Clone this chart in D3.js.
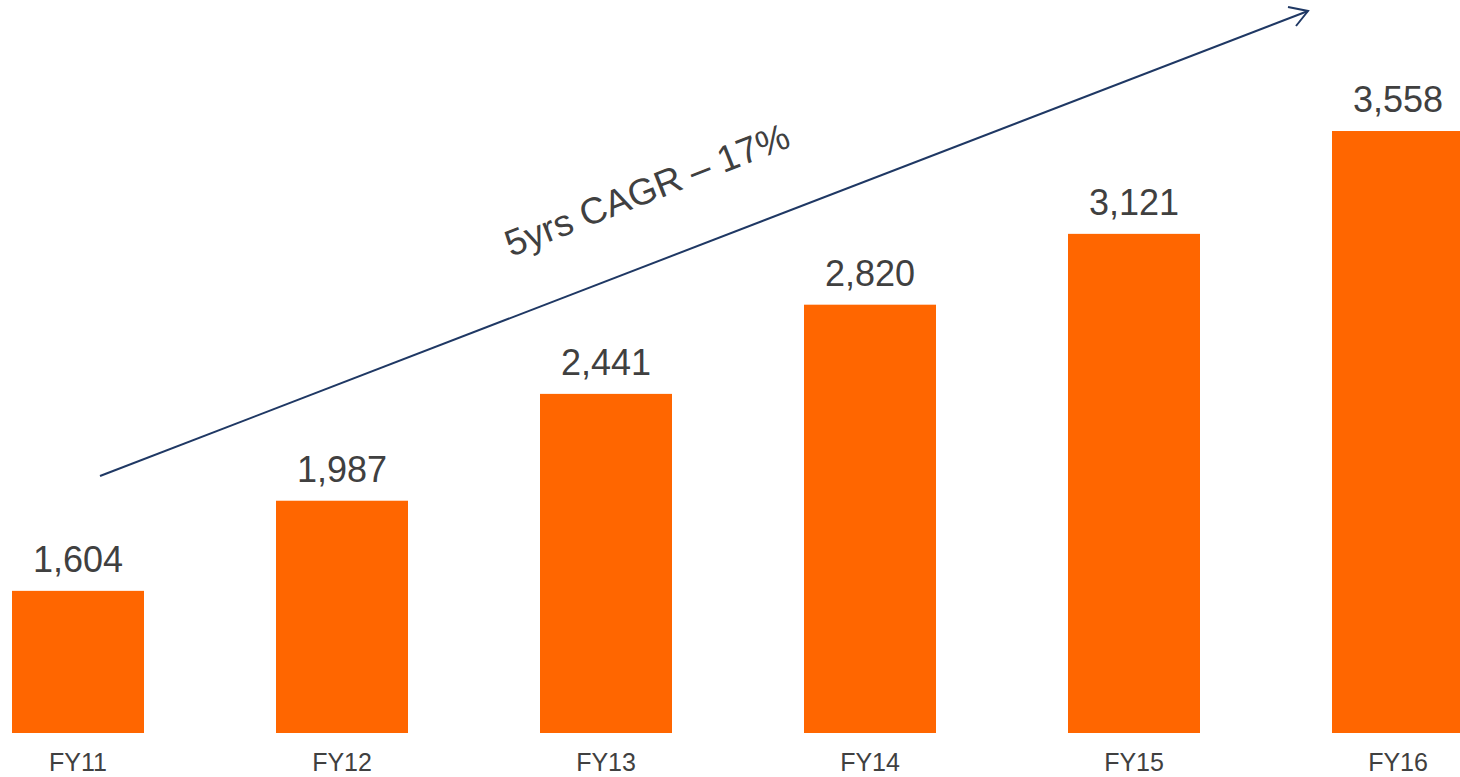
<!DOCTYPE html>
<html>
<head>
<meta charset="utf-8">
<script src="https://cdn.jsdelivr.net/npm/d3@7"></script>
<style>
  html, body { margin: 0; padding: 0; background: #fff; overflow: hidden; }
  svg { display: block; font-family: Arial, "Liberation Sans", sans-serif; }
</style>
</head>
<body>
<svg id="chart"></svg>
<script>
const years = ["FY11", "FY12", "FY13", "FY14", "FY15", "FY16"];
const values = [1604, 1987, 2441, 2820, 3121, 3558];
const cagrLabel = "5yrs CAGR \u2013 17%";

const width = 1460;
const height = 777;
const baseY = 733;

const svg = d3.select("#chart")
    .attr("width", width)
    .attr("height", height);

const x = d3.scaleBand()
    .domain(years)
    .range([-54, 1530])
    .paddingInner(0.5)
    .paddingOuter(0.25);

// axis does not start at zero
const y = d3.scaleLinear()
    .domain([1000, 4000])
    .range([baseY, 27]);

const fmt = d3.format(",");

svg.append("g")
    .selectAll("rect")
    .data(values)
    .enter().append("rect")
    .attr("x", (d, i) => x(years[i]))
    .attr("y", d => y(d))
    .attr("width", x.bandwidth())
    .attr("height", d => baseY - y(d))
    .attr("fill", "#ff6600");

svg.append("g")
    .selectAll("text")
    .data(values)
    .enter().append("text")
    .attr("x", (d, i) => x(years[i]) + x.bandwidth() / 2)
    .attr("y", d => y(d) - 19)
    .attr("text-anchor", "middle")
    .attr("font-size", "36px")
    .attr("fill", "#404040")
    .text(d => fmt(d));

const xAxis = svg.append("g")
    .attr("transform", `translate(0,${baseY})`)
    .call(d3.axisBottom(x).tickSize(0).tickPadding(0));
xAxis.select(".domain").remove();
xAxis.selectAll("text")
    .attr("dy", null)
    .attr("y", 38)
    .attr("font-size", "25px")
    .attr("font-family", "Arial, 'Liberation Sans', sans-serif")
    .attr("fill", "#404040");

// growth arrow
const arrowColor = "#1f3864";
const start = [100, 476], tip = [1308, 11];
svg.append("line")
    .attr("x1", start[0]).attr("y1", start[1])
    .attr("x2", tip[0]).attr("y2", tip[1])
    .attr("stroke", arrowColor)
    .attr("stroke-width", 2);
svg.append("path")
    .attr("d", `M1288,7 L${tip[0]},${tip[1]} L1296,26`)
    .attr("fill", "none")
    .attr("stroke", arrowColor)
    .attr("stroke-width", 2)
    .attr("stroke-linejoin", "miter");

svg.append("text")
    .attr("transform", "translate(511,257) rotate(-21.5)")
    .attr("font-size", "37px")
    .attr("fill", "#404040")
    .text(cagrLabel);
</script>
</body>
</html>
